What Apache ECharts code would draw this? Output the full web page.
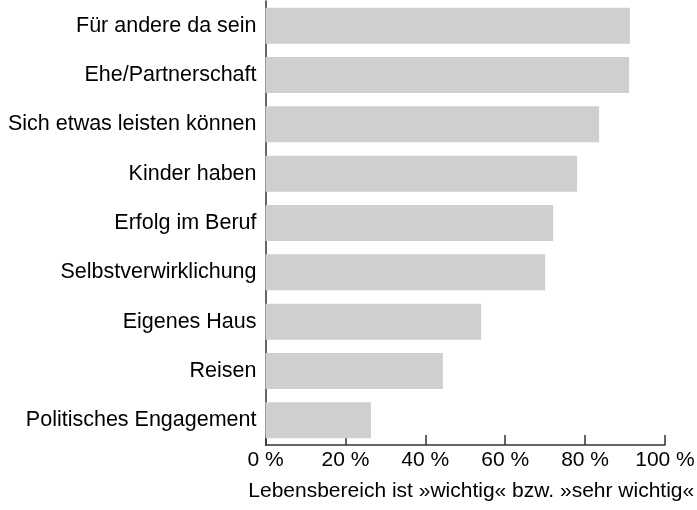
<!DOCTYPE html>
<html>
<head>
<meta charset="utf-8">
<script src="https://cdn.jsdelivr.net/npm/echarts@6/dist/echarts.min.js"></script>
<style>html,body{margin:0;padding:0;background:#fff}#c{width:697px;height:510px}</style>
</head>
<body>
<div id="c"></div>
<script>
var categories = ["Für andere da sein","Ehe/Partnerschaft","Sich etwas leisten können","Kinder haben","Erfolg im Beruf","Selbstverwirklichung","Eigenes Haus","Reisen","Politisches Engagement"];
var values = [91.2, 91.0, 83.5, 78.0, 72.0, 70.0, 54.0, 44.4, 26.4];
var xAxisTitle = "Lebensbereich ist »wichtig« bzw. »sehr wichtig«";

var font = "'Liberation Sans', Arial, sans-serif";
var chart = echarts.init(document.getElementById('c'), null, {renderer:'canvas'});
chart.setOption({
  animation: false,
  grid: {left: 265.5, right: 32, top: 1, bottom: 65, containLabel: false, outerBoundsMode: 'none'},
  xAxis: {
    type: 'value', min: 0, max: 100, interval: 20,
    axisLine: {show: true, lineStyle: {color: '#333', width: 1.5}},
    axisTick: {show: true, inside: true, length: 10, lineStyle: {color: '#333', width: 1.5}},
    splitLine: {show: false},
    axisLabel: {formatter: '{value} %', color: '#000', fontSize: 21, fontFamily: font, margin: 5},
    name: xAxisTitle, nameLocation: 'middle', nameGap: 36,
    nameTextStyle: {color: '#000', fontSize: 21, fontFamily: font, padding: [0,0,0,12]}
  },
  yAxis: {
    type: 'category', data: categories, inverse: true,
    axisLine: {show: true, lineStyle: {color: '#333', width: 1.5}},
    axisTick: {show: false},
    axisLabel: {color: '#000', fontSize: 21.5, fontFamily: font, margin: 9}
  },
  series: [{
    type: 'bar', data: values, barWidth: 36,
    itemStyle: {color: '#cfcfcf'}
  }]
});
</script>
</body>
</html>
